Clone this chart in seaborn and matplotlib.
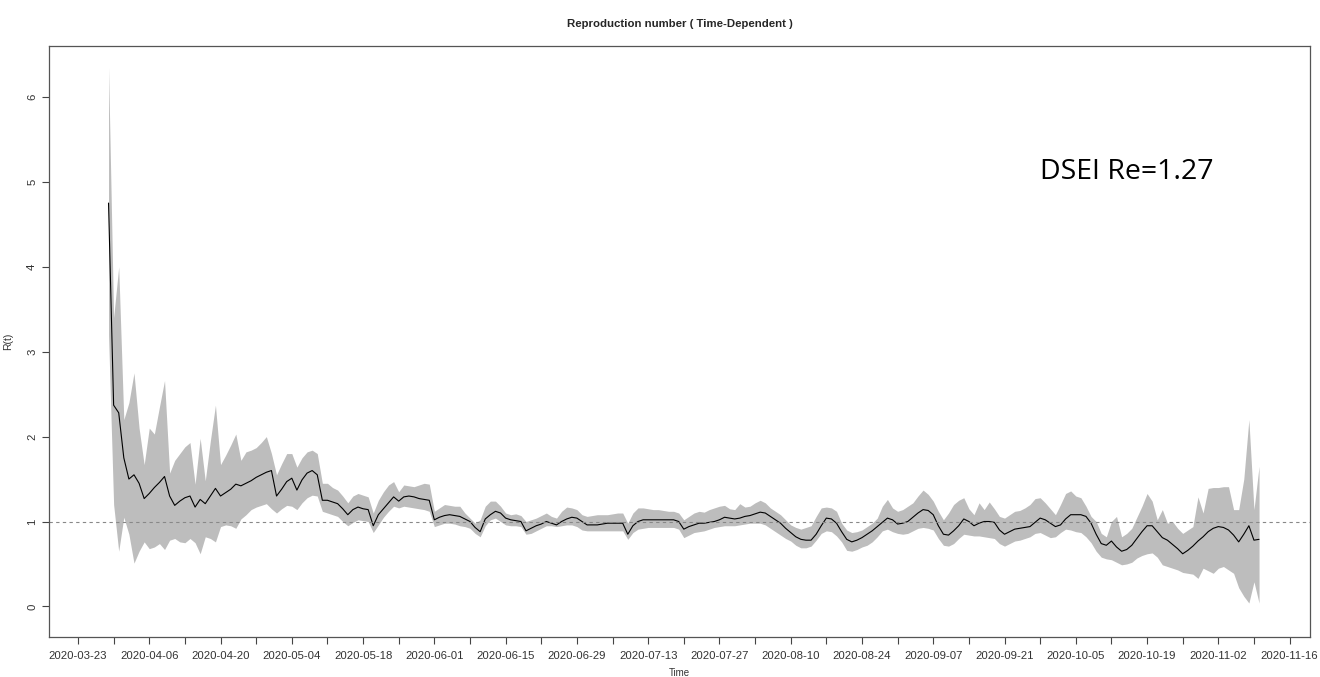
import numpy as np
import pandas as pd
import seaborn as sns
import matplotlib.pyplot as plt
import matplotlib.dates as mdates

# daily estimates, 2020-03-29 .. 2020-11-10
start_date = "2020-03-29"

r_mean = [
    4.75, 2.37, 2.28, 1.75, 1.50, 1.55, 1.45, 1.27, 1.33, 1.40, 1.46, 1.53, 1.30, 1.19, 1.24,
    1.28, 1.30, 1.17, 1.26, 1.21, 1.30, 1.39, 1.30, 1.34, 1.38, 1.44, 1.42, 1.45, 1.48, 1.52,
    1.55, 1.58, 1.60, 1.30, 1.38, 1.47, 1.51, 1.37, 1.49, 1.57, 1.60, 1.55, 1.25, 1.25, 1.23,
    1.21, 1.15, 1.08, 1.14, 1.17, 1.15, 1.14, 0.95, 1.08, 1.15, 1.22, 1.29, 1.24, 1.29, 1.30,
    1.29, 1.27, 1.26, 1.25, 1.02, 1.05, 1.07, 1.08, 1.07, 1.06, 1.03, 1.00, 0.93, 0.88, 1.03,
    1.08, 1.12, 1.10, 1.04, 1.02, 1.01, 1.00, 0.89, 0.92, 0.95, 0.97, 1.00, 0.98, 0.96, 1.00,
    1.03, 1.05, 1.04, 1.00, 0.96, 0.96, 0.96, 0.97, 0.98, 0.98, 0.98, 0.98, 0.85, 0.95, 1.00,
    1.02, 1.02, 1.02, 1.02, 1.02, 1.02, 1.02, 1.00, 0.91, 0.94, 0.96, 0.98, 0.98, 0.99, 1.00, 1.02,
    1.05, 1.04, 1.03, 1.04, 1.06, 1.07, 1.09, 1.11, 1.10, 1.06, 1.02, 0.98, 0.92, 0.87, 0.82,
    0.79, 0.78, 0.78, 0.85, 0.95, 1.04, 1.03, 0.98, 0.88, 0.79, 0.76, 0.78, 0.81, 0.85, 0.89,
    0.94, 0.99, 1.04, 1.02, 0.97, 0.98, 1.00, 1.05, 1.10, 1.14, 1.13, 1.08, 0.95, 0.85, 0.84,
    0.89, 0.95, 1.03, 1.00, 0.95, 0.98, 1.00, 1.00, 0.99, 0.90, 0.85, 0.88, 0.91, 0.92, 0.93, 0.94,
    0.99, 1.04, 1.02, 0.98, 0.94, 0.96, 1.03, 1.08, 1.08, 1.08, 1.06, 0.98, 0.85, 0.74, 0.72,
    0.77, 0.70, 0.65, 0.67, 0.72, 0.80, 0.88, 0.95, 0.95, 0.88, 0.81, 0.78, 0.73, 0.68, 0.62,
    0.66, 0.71, 0.77, 0.82, 0.88, 0.92, 0.94, 0.93, 0.90, 0.84, 0.76, 0.85, 0.95, 0.78, 0.79,
]

r_upper = [
    6.35, 3.40, 4.00, 2.20, 2.40, 2.75, 2.10, 1.67, 2.10, 2.03, 2.35, 2.66, 1.57, 1.72, 1.80,
    1.88, 1.93, 1.44, 1.98, 1.48, 1.95, 2.37, 1.67, 1.78, 1.90, 2.03, 1.72, 1.82, 1.84, 1.87,
    1.93, 2.00, 1.80, 1.55, 1.68, 1.80, 1.80, 1.64, 1.75, 1.82, 1.84, 1.80, 1.45, 1.45, 1.40,
    1.37, 1.30, 1.22, 1.30, 1.33, 1.31, 1.29, 1.10, 1.25, 1.35, 1.43, 1.47, 1.35, 1.43, 1.42,
    1.41, 1.43, 1.45, 1.44, 1.12, 1.16, 1.20, 1.19, 1.18, 1.18, 1.10, 1.04, 0.98, 1.02, 1.18,
    1.24, 1.24, 1.18, 1.10, 1.08, 1.09, 1.07, 1.00, 1.02, 1.04, 1.07, 1.10, 1.06, 1.04, 1.12,
    1.17, 1.16, 1.14, 1.08, 1.06, 1.07, 1.08, 1.08, 1.08, 1.09, 1.10, 1.10, 0.98, 1.10, 1.16,
    1.16, 1.15, 1.14, 1.14, 1.13, 1.12, 1.12, 1.10, 1.02, 1.06, 1.10, 1.12, 1.11, 1.14, 1.16, 1.18,
    1.19, 1.15, 1.14, 1.21, 1.17, 1.18, 1.22, 1.25, 1.22, 1.16, 1.12, 1.08, 1.02, 0.96, 0.93,
    0.91, 0.93, 0.95, 1.06, 1.16, 1.17, 1.16, 1.12, 0.98, 0.90, 0.87, 0.88, 0.90, 0.94, 0.98,
    1.04, 1.18, 1.26, 1.16, 1.12, 1.14, 1.18, 1.22, 1.30, 1.37, 1.32, 1.24, 1.12, 1.02, 1.10,
    1.20, 1.25, 1.28, 1.15, 1.08, 1.22, 1.14, 1.23, 1.15, 1.06, 1.04, 1.08, 1.12, 1.13, 1.16, 1.20,
    1.27, 1.28, 1.22, 1.15, 1.08, 1.20, 1.33, 1.36, 1.30, 1.28, 1.18, 1.06, 1.00, 0.86, 0.82,
    1.00, 1.06, 0.82, 0.86, 0.92, 1.05, 1.18, 1.33, 1.24, 1.02, 1.14, 0.98, 1.00, 0.92, 0.86,
    0.90, 0.94, 1.29, 1.10, 1.39, 1.40, 1.40, 1.41, 1.41, 1.14, 1.14, 1.50, 2.20, 1.14, 1.65,
]

r_lower = [
    3.20, 1.20, 0.65, 1.05, 0.85, 0.51, 0.65, 0.76, 0.68, 0.70, 0.74, 0.67, 0.78, 0.80, 0.76,
    0.75, 0.80, 0.75, 0.62, 0.82, 0.80, 0.76, 0.94, 0.96, 0.95, 0.92, 1.03, 1.08, 1.14, 1.17,
    1.19, 1.21, 1.15, 1.10, 1.15, 1.19, 1.18, 1.14, 1.22, 1.28, 1.31, 1.30, 1.12, 1.10, 1.08,
    1.06, 1.00, 0.95, 0.99, 1.02, 1.01, 1.00, 0.87, 0.96, 1.05, 1.12, 1.18, 1.16, 1.18, 1.17,
    1.16, 1.15, 1.14, 1.12, 0.94, 0.96, 0.98, 0.98, 0.97, 0.95, 0.94, 0.92, 0.86, 0.82, 0.95,
    1.02, 1.04, 1.00, 0.96, 0.95, 0.95, 0.94, 0.85, 0.86, 0.89, 0.92, 0.95, 0.95, 0.94, 0.95,
    0.96, 0.96, 0.94, 0.90, 0.89, 0.89, 0.89, 0.89, 0.89, 0.89, 0.89, 0.89, 0.79, 0.87, 0.91,
    0.92, 0.93, 0.93, 0.93, 0.93, 0.93, 0.93, 0.91, 0.81, 0.84, 0.87, 0.88, 0.89, 0.91, 0.93, 0.94,
    0.95, 0.95, 0.95, 0.96, 0.97, 0.98, 0.98, 0.98, 0.96, 0.92, 0.88, 0.84, 0.80, 0.77, 0.72,
    0.69, 0.69, 0.71, 0.78, 0.86, 0.89, 0.88, 0.83, 0.76, 0.66, 0.65, 0.67, 0.70, 0.72, 0.76,
    0.82, 0.89, 0.91, 0.88, 0.86, 0.85, 0.86, 0.89, 0.92, 0.93, 0.92, 0.90, 0.80, 0.72, 0.71,
    0.74, 0.80, 0.85, 0.84, 0.83, 0.83, 0.82, 0.81, 0.80, 0.74, 0.71, 0.74, 0.77, 0.78, 0.80, 0.82,
    0.86, 0.87, 0.84, 0.81, 0.82, 0.87, 0.91, 0.90, 0.88, 0.87, 0.82, 0.75, 0.65, 0.58, 0.56,
    0.55, 0.52, 0.49, 0.50, 0.52, 0.57, 0.60, 0.62, 0.63, 0.58, 0.49, 0.47, 0.45, 0.43, 0.40,
    0.39, 0.38, 0.33, 0.45, 0.42, 0.39, 0.45, 0.47, 0.43, 0.39, 0.22, 0.12, 0.04, 0.29, 0.04,
]

df = pd.DataFrame({
    "date": pd.date_range(start_date, periods=len(r_mean), freq="D"),
    "R": r_mean,
    "lo": r_lower,
    "hi": r_upper,
})

sns.set_style("ticks")
plt.rcParams["font.family"] = ["Liberation Sans", "DejaVu Sans"]

fig = plt.figure(figsize=(13.2, 6.77), dpi=100)
ax = fig.add_axes([0.0371, 0.0591, 0.9553, 0.873])

ax.fill_between(df["date"], df["lo"], df["hi"], color="#bdbdbd", linewidth=0)
sns.lineplot(data=df, x="date", y="R", ax=ax, color="black", linewidth=0.8)
ax.axhline(1, color="#888888", linestyle=(0, (3, 3)), linewidth=0.8)

t0 = pd.Timestamp("2020-03-23")
ax.set_xlim(t0 - pd.Timedelta(days=5.7), t0 + pd.Timedelta(days=242.0))
ax.set_ylim(-0.36, 6.6)

major = pd.date_range("2020-03-23", "2020-11-16", freq="14D")
minor = pd.date_range("2020-03-30", "2020-11-09", freq="14D")
ax.set_xticks(major)
ax.set_xticks(minor, minor=True)
ax.xaxis.set_major_formatter(mdates.DateFormatter("%Y-%m-%d"))
ax.set_yticks([0, 1, 2, 3, 4, 5, 6])
ax.set_yticklabels(["0", "1", "2", "3", "4", "5", "6"], rotation=90, va="center")

ax.tick_params(axis="both", which="both", direction="out", length=5, width=0.8,
               color="#444444", labelsize=8.2, labelcolor="#333333")
ax.tick_params(axis="x", pad=5)
for s in ax.spines.values():
    s.set_color("#555555")
    s.set_linewidth(0.9)

ax.set_xlabel("Time", fontsize=7, color="#333333", labelpad=5)
ax.set_ylabel("R(t)", fontsize=7.5, color="#333333", labelpad=10)
ax.set_title("Reproduction number ( Time-Dependent )", fontsize=8.2, fontweight="bold",
             pad=14)
ax.text(0.786, 0.786, "DSEI Re=1.27", transform=ax.transAxes, fontsize=20.5,
        va="center", family=["Open Sans", "DejaVu Sans"], color="black")

fig.savefig("out.png", dpi=100)
